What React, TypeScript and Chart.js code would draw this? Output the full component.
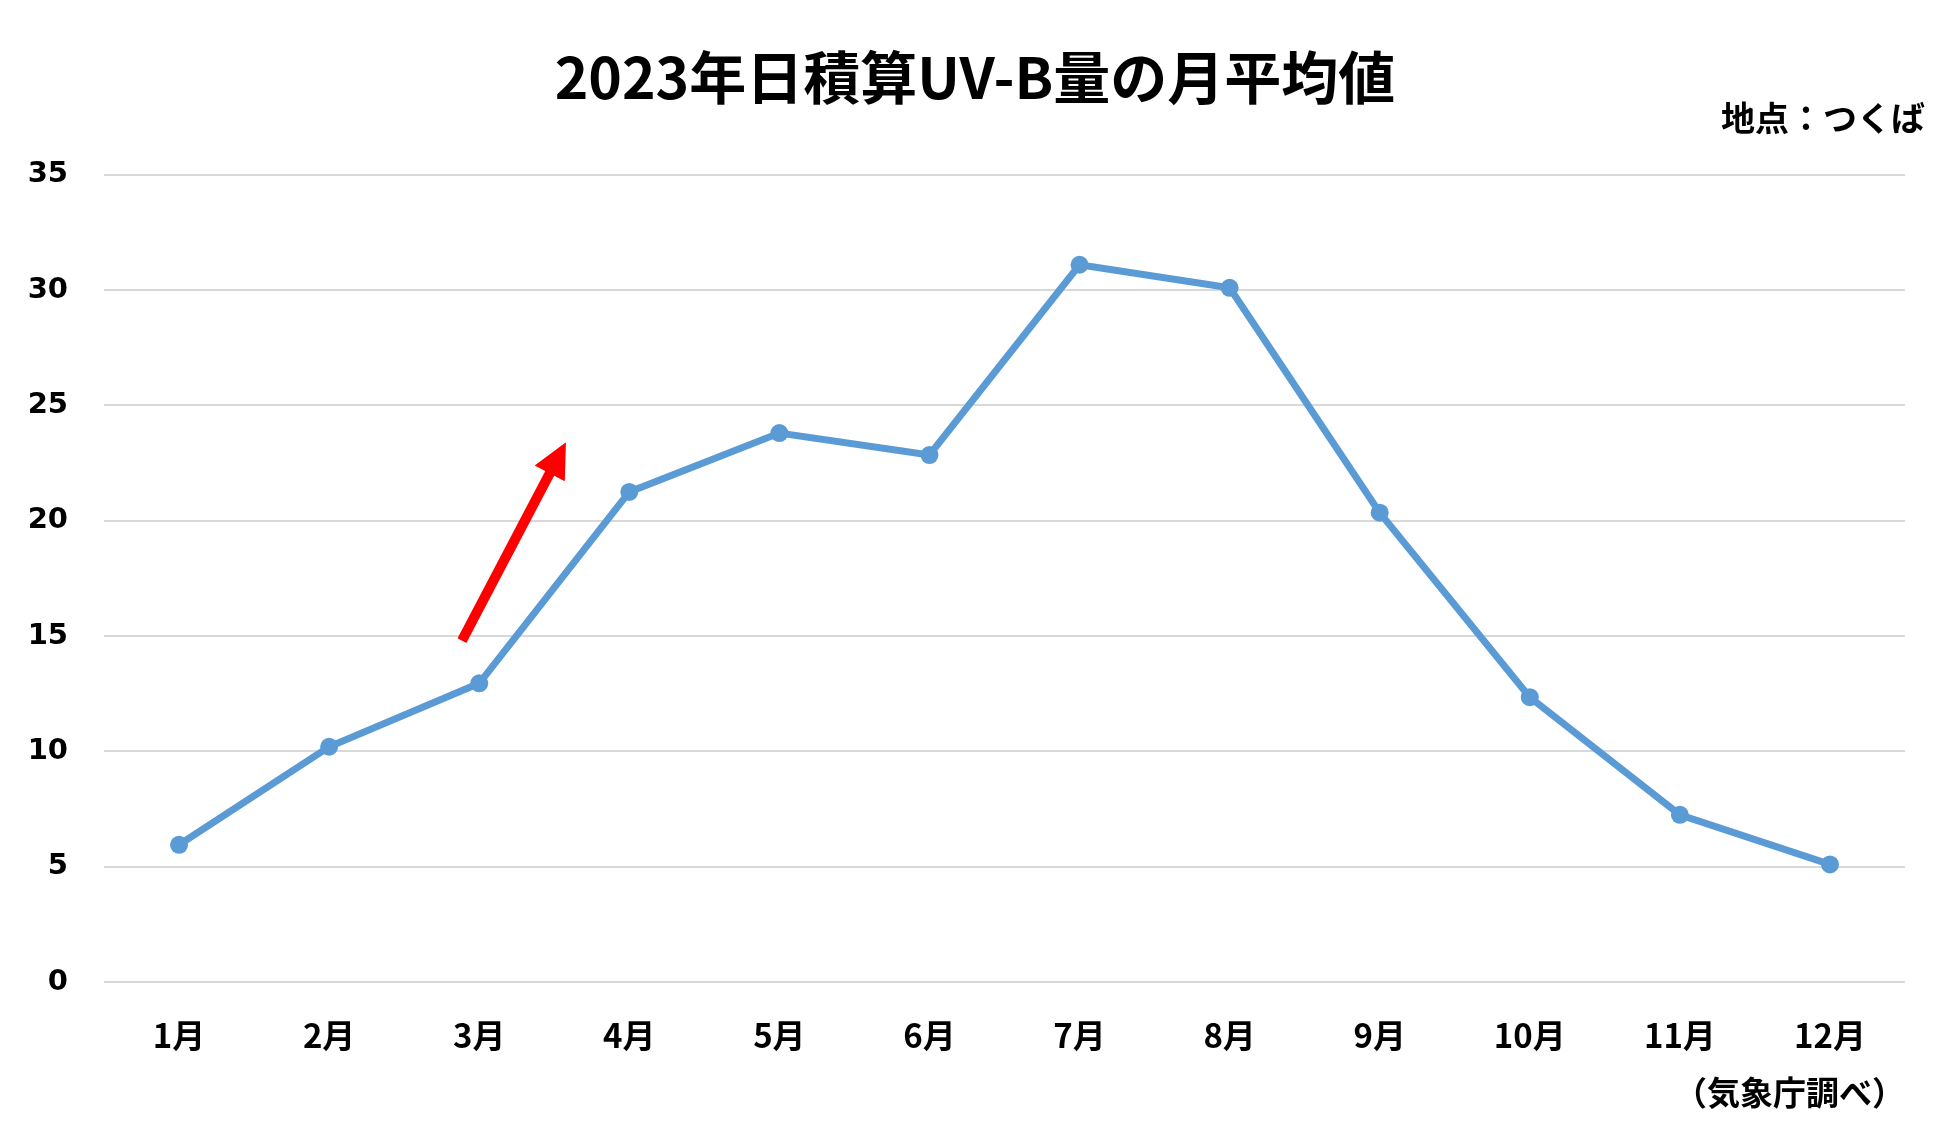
import React, { useEffect, useRef } from "react";
import { Chart, registerables } from "chart.js";

Chart.register(...registerables);

const months = ["1月", "2月", "3月", "4月", "5月", "6月", "7月", "8月", "9月", "10月", "11月", "12月"];
const uvbValues = [5.95, 10.2, 12.95, 21.25, 23.8, 22.85, 31.1, 30.1, 20.35, 12.35, 7.25, 5.1];
const yTicks = { min: 0, max: 35, step: 5 };
// Arrow annotation in data coordinates: [category index, value]
const arrowFrom = [1.885, 14.8];
const arrowTo = [2.578, 23.4];

const titleText = "2023年日積算UV-B量の月平均値";
const placeText = "地点：つくば";
const sourceText = "（気象庁調べ）";

const JP = "'Noto Sans CJK JP', 'Noto Sans', sans-serif";

const arrowPlugin = {
  id: "redArrow",
  afterDatasetsDraw(chart: any) {
    const { ctx, scales } = chart;
    const x1 = scales.x.getPixelForValue(arrowFrom[0]);
    const y1 = scales.y.getPixelForValue(arrowFrom[1]);
    const x2 = scales.x.getPixelForValue(arrowTo[0]);
    const y2 = scales.y.getPixelForValue(arrowTo[1]);
    const dx = x2 - x1;
    const dy = y2 - y1;
    const len = Math.sqrt(dx * dx + dy * dy);
    const ux = dx / len;
    const uy = dy / len;
    const headLen = 35;
    const headHalf = 17;
    const bx = x2 - ux * headLen;
    const by = y2 - uy * headLen;
    ctx.save();
    ctx.strokeStyle = "#FF0000";
    ctx.fillStyle = "#FF0000";
    ctx.lineWidth = 10;
    ctx.lineCap = "butt";
    ctx.beginPath();
    ctx.moveTo(x1, y1);
    ctx.lineTo(bx + ux * 2, by + uy * 2);
    ctx.stroke();
    ctx.beginPath();
    ctx.moveTo(x2, y2);
    ctx.lineTo(bx - uy * headHalf, by + ux * headHalf);
    ctx.lineTo(bx + uy * headHalf, by - ux * headHalf);
    ctx.closePath();
    ctx.fill();
    ctx.restore();
  },
};

export default function App() {
  const canvasRef = useRef<HTMLCanvasElement | null>(null);

  useEffect(() => {
    if (!canvasRef.current) return;
    const chart = new Chart(canvasRef.current, {
      type: "line",
      data: {
        labels: months,
        datasets: [
          {
            label: "UV-B",
            data: uvbValues,
            borderColor: "#5B9BD5",
            backgroundColor: "#5B9BD5",
            pointBackgroundColor: "#5B9BD5",
            pointBorderColor: "#5B9BD5",
            borderWidth: 7,
            pointRadius: 9,
            pointBorderWidth: 0,
            tension: 0,
          },
        ],
      },
      options: {
        animation: false,
        responsive: true,
        maintainAspectRatio: false,
        layout: { padding: { top: 0, right: 25, bottom: 0, left: 25 } },
        plugins: {
          legend: { display: false },
          tooltip: { enabled: false },
          title: {
            display: true,
            text: titleText,
            color: "#000000",
            font: { family: JP, size: 57, weight: "bold", lineHeight: 1 },
            padding: { top: 49, bottom: 0 },
          },
          subtitle: {
            display: true,
            text: placeText,
            align: "end",
            color: "#000000",
            font: { family: JP, size: 34, weight: "bold", lineHeight: 0.7 },
            padding: { top: 0, bottom: 45 },
          },
        },
        scales: {
          x: {
            type: "category",
            offset: true,
            grid: { display: false, drawTicks: false },
            border: { display: false },
            ticks: {
              color: "#000000",
              font: { family: JP, size: 33, weight: "bold" },
              padding: 34,
              maxRotation: 0,
              autoSkip: false,
            },
            title: {
              display: true,
              text: sourceText,
              align: "end",
              color: "#000000",
              font: { family: JP, size: 33, weight: "bold", lineHeight: 1.2 },
              padding: { top: 0, bottom: 26 },
            },
            afterFit(scale: any) {
              scale.height = 156;
            },
          },
          y: {
            min: yTicks.min,
            max: yTicks.max,
            grid: { color: "#D9D9D9", lineWidth: 2, drawTicks: false },
            border: { display: false },
            ticks: {
              stepSize: yTicks.step,
              color: "#000000",
              font: { family: "'DejaVu Sans', sans-serif", size: 29, weight: "bold" },
              padding: 36,
            },
            afterFit(scale: any) {
              scale.width = 79;
            },
          },
          yRight: {
            type: "linear",
            axis: "y",
            position: "right",
            display: true,
            grid: { display: false, drawOnChartArea: false, drawTicks: false },
            border: { display: false },
            ticks: { display: false },
            afterFit(scale: any) {
              scale.width = 20;
            },
          },
        },
      },
      plugins: [arrowPlugin],
    });
    return () => chart.destroy();
  }, []);

  return (
    <div style={{ position: "fixed", left: 0, top: 0, width: "1950px", height: "1138px", background: "#ffffff" }}>
      <canvas ref={canvasRef} />
    </div>
  );
}
